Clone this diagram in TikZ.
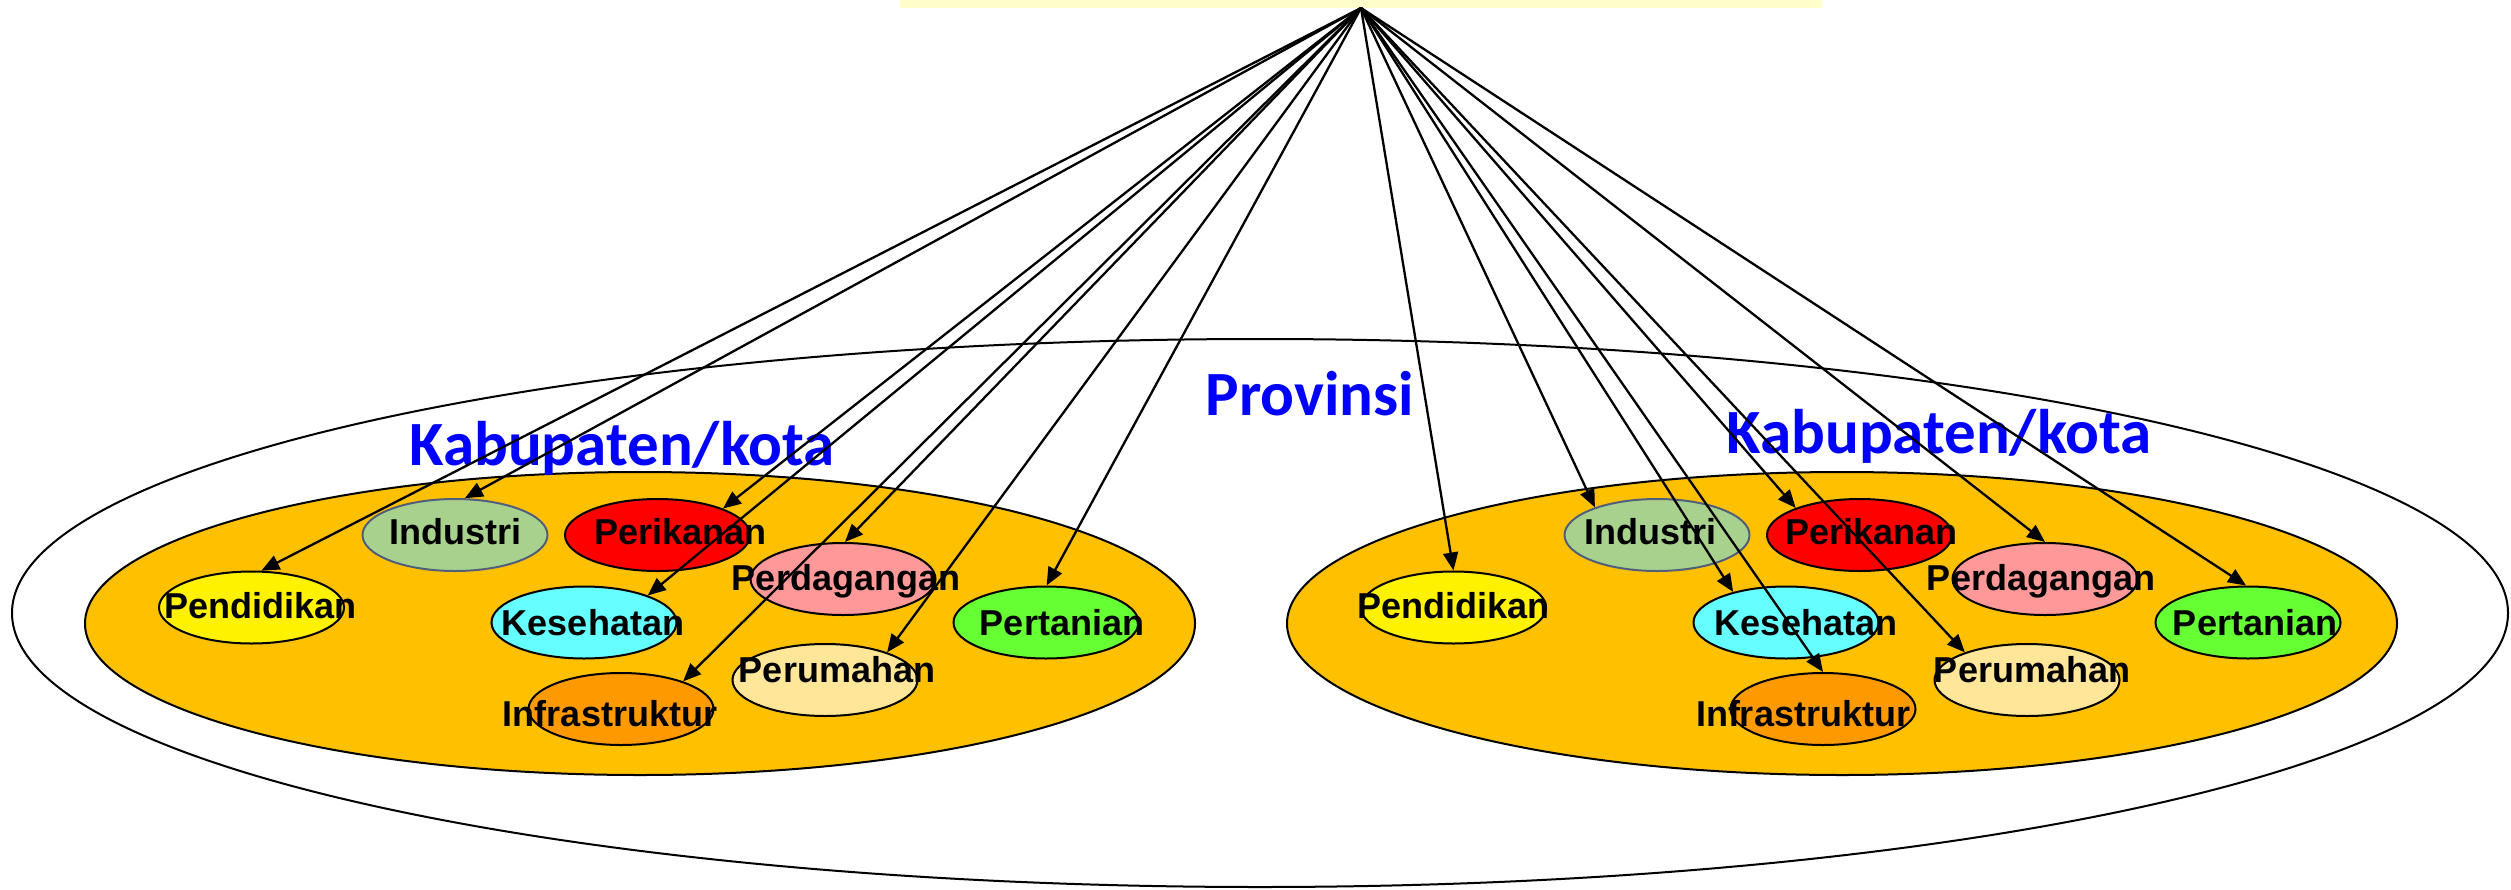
\documentclass[tikz,border=0pt]{standalone}
\usepackage{fontspec}
\setmainfont{Liberation Sans}
\newfontfamily\calibri{Carlito}
\usetikzlibrary{shapes.geometric,arrows.meta}

\definecolor{kabfill}{HTML}{FFC000}
\definecolor{bannerfill}{HTML}{FFFFCC}
\definecolor{indfill}{HTML}{A9D18E}
\definecolor{indline}{RGB}{80,96,122}
\definecolor{dagfill}{HTML}{FF9999}
\definecolor{kesfill}{HTML}{66FFFF}
\definecolor{tanifill}{HTML}{66FF33}
\definecolor{rumahfill}{HTML}{FFE699}
\definecolor{infrafill}{HTML}{FF9900}

% text of a sector, moved off the centre of its ellipse
\newcommand{\lbl}[3]{\makebox[0pt]{\hspace*{\dimexpr 2pt*#1\relax}\raisebox{#2pt}{#3}}}

\begin{document}
\begin{tikzpicture}[x=1pt,y=-1pt,
    sector/.style={draw, ellipse, line width=2pt, minimum width=185pt, minimum height=72pt,
      inner sep=0pt, font=\fontsize{36}{40}\selectfont\bfseries, text height=26pt, text depth=0pt},
    title/.style={anchor=base, inner sep=0pt, text=blue, font=\calibri\fontsize{63}{70}\selectfont\bfseries},
    link/.style={line width=2.3pt, -{Triangle[length=18pt,width=15pt]}}]
    \useasboundingbox (0,0) rectangle (2511,889);

    % Provinsi and the two Kabupaten/kota
    \draw[line width=2pt] (1260,613) ellipse [x radius=1248, y radius=274];
    \draw[line width=2pt, fill=kabfill] (640,623.5) ellipse [x radius=555, y radius=151.5];
    \draw[line width=2pt, fill=kabfill] (1842,623.5) ellipse [x radius=555, y radius=151.5];

    \node[anchor=south, fill=bannerfill, minimum width=922pt, minimum height=8pt, inner sep=0pt] (banner) at (1361,8) {};

    \node[title] (prov) at (1310,415) {Provinsi};
    \node[title] (kabL) at (622,465) {Kabupaten/kota};
    \node[title] (kabR) at (1939,453) {Kabupaten/kota};

    % sectors, left
    \node[sector, fill=yellow] (pendL) at (251.5,607.5) {\lbl{9}{2}{Pendidikan}};
    \node[sector, fill=indfill, draw=indline] (indL) at (455,535) {\lbl{0}{4}{Industri}};
    \node[sector, fill=red] (ikanL) at (657.5,535) {\lbl{23}{4}{Perikanan}};
    \node[sector, fill=dagfill] (dagL) at (843,579) {\lbl{3}{2}{Perdagangan}};
    \node[sector, fill=kesfill] (kesL) at (584,622.5) {\lbl{9}{0}{Kesehatan}};
    \node[sector, fill=tanifill] (taniL) at (1046,622.5) {\lbl{16}{0}{Pertanian}};
    \node[sector, fill=rumahfill] (rumahL) at (825,680) {\lbl{12}{11}{Perumahan}};
    \node[sector, fill=infrafill] (infraL) at (621,709) {\lbl{-11}{-4}{Infrastruktur}};

    % sectors, right
    \node[sector, fill=yellow] (pendR) at (1453.5,607.5) {\lbl{0}{2}{Pendidikan}};
    \node[sector, fill=indfill, draw=indline] (indR) at (1657,535) {\lbl{-7}{4}{Industri}};
    \node[sector, fill=red] (ikanR) at (1859.5,535) {\lbl{12}{4}{Perikanan}};
    \node[sector, fill=dagfill] (dagR) at (2045,579) {\lbl{-4}{2}{Perdagangan}};
    \node[sector, fill=kesfill] (kesR) at (1786,622.5) {\lbl{20}{0}{Kesehatan}};
    \node[sector, fill=tanifill] (taniR) at (2248,622.5) {\lbl{7}{0}{Pertanian}};
    \node[sector, fill=rumahfill] (rumahR) at (2027,680) {\lbl{5}{11}{Perumahan}};
    \node[sector, fill=infrafill] (infraR) at (1823,709) {\lbl{-20}{-4}{Infrastruktur}};

    % links from the top
    \draw[link] (banner.south) -- (pendL.75);
    \draw[link] (banner.south) -- (indL.75);
    \draw[link] (banner.south) -- (ikanL.22);
    \draw[link] (banner.south) -- (kesL.23);
    \draw[link] (banner.south) -- (dagL.87);
    \draw[link] (banner.south) -- (infraL.24);
    \draw[link] (banner.south) -- (rumahL.24);
    \draw[link] (banner.south) -- (taniL.89);

    \draw[link] (banner.south) -- (pendR.90);
    \draw[link] (banner.south) -- (indR.156);
    \draw[link] (banner.south) -- (ikanR.157);
    \draw[link] (banner.south) -- (kesR.150);
    \draw[link] (banner.south) -- (dagR.90);
    \draw[link] (banner.south) -- (infraR.90);
    \draw[link] (banner.south) -- (rumahR.156);
    \draw[link] (banner.south) -- (taniR.93);
\end{tikzpicture}
\end{document}
